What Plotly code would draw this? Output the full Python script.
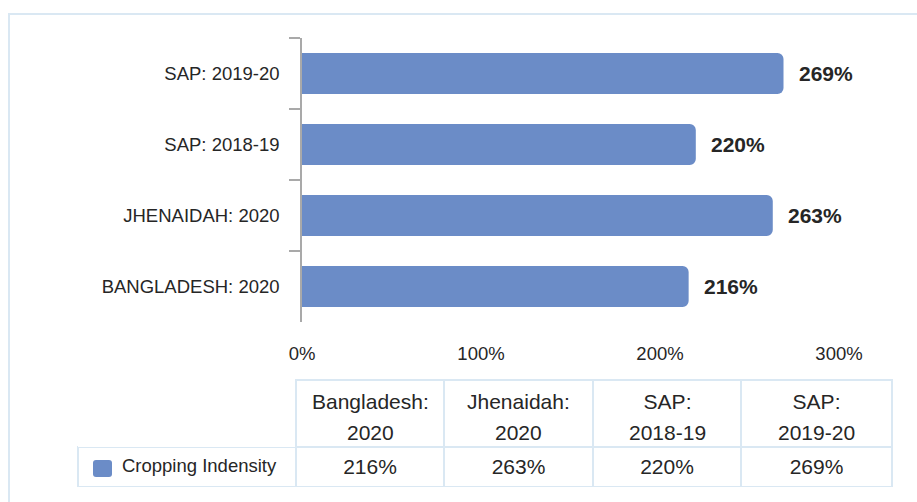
import plotly.graph_objects as go

# ---- data -------------------------------------------------------------
categories = ["BANGLADESH: 2020", "JHENAIDAH: 2020", "SAP: 2018-19", "SAP: 2019-20"]
table_headers = ["Bangladesh:<br>2020", "Jhenaidah:<br>2020", "SAP:<br>2018-19", "SAP:<br>2019-20"]
series_name = "Cropping Indensity"
cropping_intensity = [216, 263, 220, 269]
x_ticks = [0, 100, 200, 300]

# ---- style ------------------------------------------------------------
W, H = 917, 502
BAR = "#6b8cc7"
TXT = "#262626"
AXIS = "#a9a9a9"
GRID = "#dae8f3"
FONT = "Liberation Sans, Arial, sans-serif"

# table geometry (pixels)
TBL_X0, TBL_X1 = 78, 892
TBL_TOP, TBL_MID, TBL_BOT = 380, 447, 487
COL_W = [218, 148, 149, 148, 151]


def fx(px):
    return px / W


def fy(py):
    return 1 - py / H


def cell_text(text, size):
    # trailing <br> keeps the table from word-wrapping the styled text
    return f"<span style='font-size:{size}px'>{text}</span><br>"


fig = go.Figure()

fig.add_trace(go.Bar(
    x=cropping_intensity,
    y=categories,
    orientation="h",
    marker=dict(color=BAR, cornerradius=6, line=dict(width=0)),
    showlegend=False,
    hoverinfo="skip",
))

# value labels to the right of each bar
for cat, v in zip(categories, cropping_intensity):
    fig.add_annotation(
        x=v, y=cat, xref="x", yref="y", text=f"<b>{v}%</b>",
        showarrow=False, xanchor="left", xshift=13,
        font=dict(family=FONT, size=21, color=TXT),
    )

# data table under the chart
fig.add_trace(go.Table(
    domain=dict(x=[fx(TBL_X0), fx(TBL_X1)], y=[fy(TBL_BOT), fy(TBL_TOP)]),
    columnwidth=COL_W,
    header=dict(
        values=[""] * (len(table_headers) + 1),
        height=TBL_MID - TBL_TOP,
        fill=dict(color="white"),
        line=dict(color=["rgba(0,0,0,0)"] + [GRID] * 4, width=2),
        font=dict(family=FONT, size=20, color=TXT),
    ),
    cells=dict(
        values=[[cell_text("\u00a0" * 7 + series_name, 18.5)]]
        + [[cell_text(f"{v}%", 21)] for v in cropping_intensity],
        height=TBL_BOT - TBL_MID,
        align=["left"] + ["center"] * 4,
        fill=dict(color="white"),
        line=dict(color=GRID, width=2),
        font=dict(family=FONT, size=28, color=TXT),
    ),
))

# column headings, each line centred in its column
scale = (TBL_X1 - TBL_X0) / sum(COL_W)
left = TBL_X0 + COL_W[0] * scale
for head, w in zip(table_headers, COL_W[1:]):
    cx = left + w * scale / 2
    left += w * scale
    lines = head.split("<br>")
    fig.add_annotation(
        x=fx(cx), y=fy(417), xref="paper", yref="paper",
        text="<br>".join(f"<span style='font-size:21px'>{t}</span>" for t in lines),
        showarrow=False, xanchor="center", yanchor="middle", align="center",
        font=dict(family=FONT, size=24, color=TXT),
    )


def rounded_rect(x0, y0, x1, y1, r):
    X0, X1 = fx(x0), fx(x1)
    Y0, Y1 = fy(y0), fy(y1)
    rx, ry = r / W, r / H
    return (f"M{X0 + rx},{Y0} L{X1 - rx},{Y0} Q{X1},{Y0} {X1},{Y0 - ry} "
            f"L{X1},{Y1 + ry} Q{X1},{Y1} {X1 - rx},{Y1} L{X0 + rx},{Y1} "
            f"Q{X0},{Y1} {X0},{Y1 + ry} L{X0},{Y0 - ry} Q{X0},{Y0} {X0 + rx},{Y0} Z")


fig.update_layout(
    width=W, height=H, autosize=False,
    margin=dict(l=0, r=0, t=0, b=0, pad=0),
    paper_bgcolor="white", plot_bgcolor="white",
    font=dict(family=FONT, size=18.5, color=TXT),
    bargap=0.42,
    xaxis=dict(
        domain=[fx(302), fx(839)],
        range=[0, 300],
        tickvals=x_ticks,
        ticktext=[f"{t}%" for t in x_ticks],
        showgrid=False, zeroline=False, showline=False,
        ticks="outside", ticklen=15, tickcolor="rgba(0,0,0,0)",
        tickfont=dict(size=18.5, color=TXT),
        automargin=False,
        fixedrange=True,
    ),
    yaxis=dict(
        domain=[fy(322), fy(38)],
        showgrid=False, zeroline=False,
        showline=True, linecolor=AXIS, linewidth=1.5,
        ticks="outside", ticklen=11, tickwidth=1.5, tickcolor=AXIS,
        tickson="boundaries",
        ticklabelstandoff=17,
        tickfont=dict(size=18.5, color=TXT),
        automargin=False,
        fixedrange=True,
    ),
    shapes=[
        # outer frame
        dict(type="rect", xref="paper", yref="paper",
             x0=fx(9), x1=1.05, y0=-0.05, y1=fy(14),
             line=dict(color=GRID, width=2), fillcolor="rgba(0,0,0,0)", layer="below"),
        # legend swatch in the table
        dict(type="path", xref="paper", yref="paper",
             path=rounded_rect(93, 460, 112, 477, 3),
             fillcolor=BAR, line=dict(width=0)),
    ],
)

fig.write_html("out.html", config={"responsive": False, "displayModeBar": False})
